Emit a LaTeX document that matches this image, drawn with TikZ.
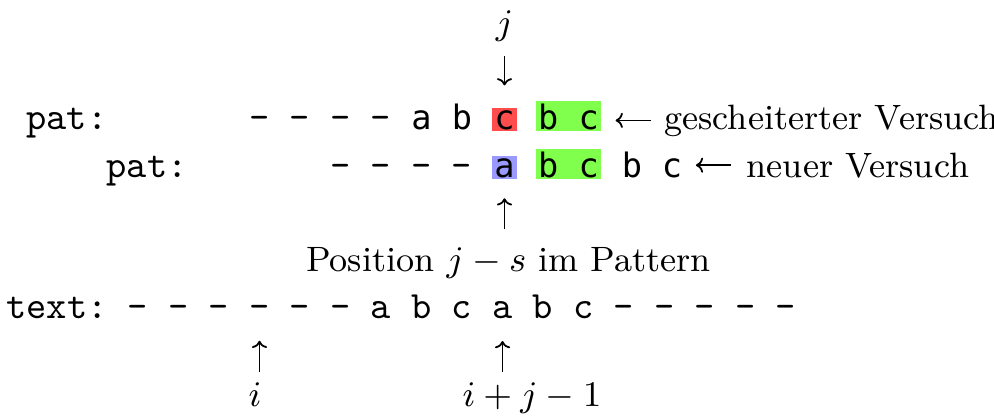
\documentclass[tikz,border=0pt]{standalone}
\usepackage{fontspec}
\usepackage{tikz}
\usetikzlibrary{arrows.meta,positioning}
\newfontfamily\patfont{DejaVu Sans Mono}
\definecolor{failred}{RGB}{255,77,77}
\definecolor{matchgreen}{RGB}{128,255,77}
\definecolor{shiftblue}{RGB}{153,153,255}
\tikzset{
  ch/.style={inner sep=0pt, anchor=base, font=\fontsize{9.64}{11}\ttfamily},
  pch/.style={inner sep=0pt, anchor=base, font=\fontsize{8.4}{10}\patfont},
  hit/.style={pch, inner sep=0.5pt},
  lbl/.style={inner sep=0pt, anchor=base, font=\fontsize{8.8}{10.5}\selectfont},
  arr/.style={-{Computer Modern Rightarrow[width=3.8pt, length=1.8pt]}, line width=0.45pt}
}
\begin{document}
\begin{tikzpicture}[x=0.25pt, y=-0.25pt]
\useasboundingbox (0,0) rectangle (994,418);

% --- first try of the pattern ---
\node[ch] (pa) at (67,129) {pat:};
\foreach \c [count=\k] in {-,-,-,-}
  \node[ch] (ra\k) at ({219+40.5*\k},129) {\c};
\node[pch] (ra5) at (421.5,129) {a};
\node[pch] (ra6) at (462,129) {b};
\node[hit, fill=failred] (rac) at (504.5,129) {c};
\node[hit, fill=matchgreen] (rag) at (568.5,129) {b c};
\node[lbl, base right=15.5pt of rag] (fail) {gescheiterter Versuch};
\draw[arr, shorten <=3.25pt, shorten >=3.5pt] (fail.west) -- (fail.west -| rag.east);

% --- shifted pattern ---
\node[ch] (pb) at (147,177) {pat:};
\foreach \c [count=\k] in {-,-,-,-}
  \node[ch] (rb\k) at ({300+40.5*\k},177) {\c};
\node[hit, fill=shiftblue] (rba) at (504.5,177) {a};
\node[hit, fill=matchgreen] (rbg) at (568.5,177) {b c};
\node[pch] (rb5) at (632,177) {b};
\node[pch] (rb6) at (672,177) {c};
\node[lbl, base right=15.75pt of rb6] (nv) {neuer Versuch};
\draw[arr, shorten <=3.75pt, shorten >=3.25pt] (nv.west) -- (nv.west -| rb6.east);

% --- j and Position ---
\node[lbl] (jl) at (504.5,35) {$j$};
\node[lbl] (pos) at (508.5,271) {Position $j-s$ im Pattern};
\draw[arr, shorten <=3.25pt, shorten >=5.5pt] (jl) -- (rac);
\draw[arr, shorten <=4.25pt, shorten >=4.5pt] (pos.north -| rba) -- (rba);

% --- text ---
\node[ch] (txt) at (57,318) {text:};
\foreach \c [count=\k] in {-,-,-,-,-,-,a,b,c,a,b,c,-,-,-,-,-}
  \node[ch] (t\k) at ({97.5+40.5*\k},318) {\c};
\node[lbl] (il) at (255,406) {$i$};
\node[lbl] (ijl) at (532,406) {$i+j-1$};
\draw[arr, shorten <=2.4pt, shorten >=5.5pt] (il.north -| t4) -- (t4);
\draw[arr, shorten <=2.4pt, shorten >=5.5pt] (ijl.north -| t10) -- (t10);
\end{tikzpicture}
\end{document}
